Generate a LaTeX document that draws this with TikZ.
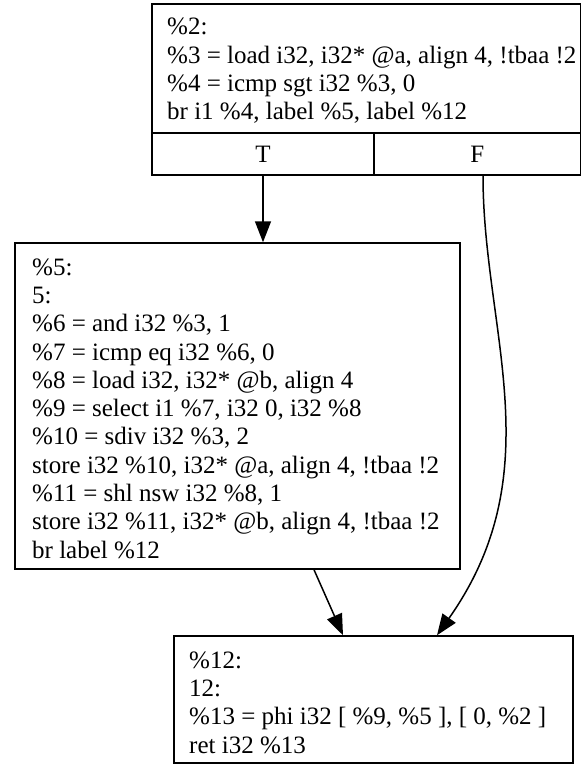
\documentclass[tikz,border=0pt]{standalone}
\usepackage{fontspec}
\setmainfont{Liberation Serif}
\usetikzlibrary{arrows.meta,positioning,calc}
\tikzset{
  box/.style={draw=black, line width=1.5pt, inner sep=0pt, anchor=center},
  code/.style={inner sep=0pt, align=left, anchor=west, font=\fontsize{25}{28.3}\selectfont},
  cell/.style={draw=black, line width=1.5pt, inner sep=0pt, anchor=center, font=\fontsize{25}{28.3}\selectfont},
  edge/.style={line width=1.5pt, -{Triangle[length=21pt,width=16pt]}}
}
\begin{document}
\begin{tikzpicture}[x=1pt,y=-1pt]
\useasboundingbox (0,0) rectangle (583,764);
% top block
\node[box, minimum width=428.5pt, minimum height=129pt] (b2) at (366.25,68.5) {};
\node[code] (t2) at (167,71)
 {\%2:\\
  \%3 = load i32, i32* @a, align 4, !tbaa !2\\
  \%4 = icmp sgt i32 \%3, 0\\
  br i1 \%4, label \%5, label \%12};
\node[cell, minimum width=222pt, minimum height=42pt] (T) at (263,154) {T};
\node[cell, minimum width=206.5pt, minimum height=42pt] (F) at (477.25,154) {F};
% middle block
\node[box, minimum width=445pt, minimum height=326pt] (b5) at (237.5,406) {};
\node[code] (t5) at (32,408.5)
 {\%5:\\
  5:\\
  \%6 = and i32 \%3, 1\\
  \%7 = icmp eq i32 \%6, 0\\
  \%8 = load i32, i32* @b, align 4\\
  \%9 = select i1 \%7, i32 0, i32 \%8\\
  \%10 = sdiv i32 \%3, 2\\
  store i32 \%10, i32* @a, align 4, !tbaa !2\\
  \%11 = shl nsw i32 \%8, 1\\
  store i32 \%11, i32* @b, align 4, !tbaa !2\\
  br label \%12};
% bottom block
\node[box, minimum width=399pt, minimum height=127pt] (b12) at (373.5,699.5) {};
\node[code] (t12) at (189,702.5)
 {\%12:\\
  12:\\
  \%13 = phi i32 [ \%9, \%5 ], [ 0, \%2 ]\\
  ret i32 \%13};
% edges
\coordinate (fs) at ($(F.south)+(5.75,0)$);
\draw[edge] (T.south) -- (T.south |- b5.north);
\draw[edge] ($(b5.south)+(76.5,0)$) -- ($(b12.north)+(-30.5,0)$);
\draw[edge] (fs) .. controls ($(fs)+(0,155)$) and ($(fs)+(70,295)$) .. ($(b12.north)+(63.5,0)$);
\end{tikzpicture}
\end{document}
